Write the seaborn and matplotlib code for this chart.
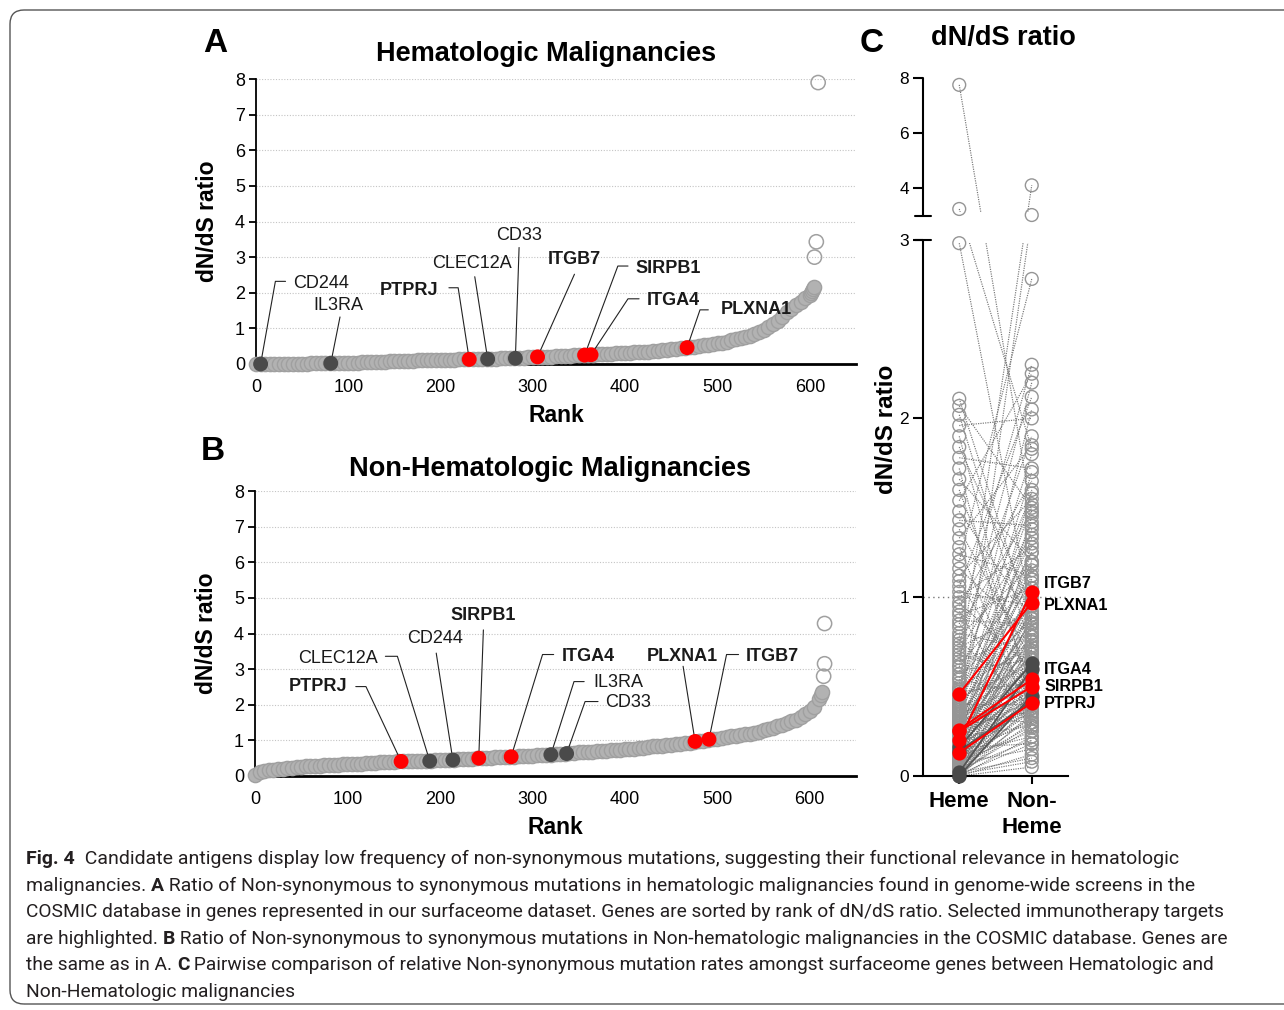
import numpy as np
import pandas as pd
import matplotlib
matplotlib.use("Agg")
import matplotlib.pyplot as plt
import seaborn as sns
from matplotlib import font_manager as fm
from matplotlib.patches import FancyBboxPatch, Rectangle
from matplotlib.transforms import IdentityTransform

W, H = 1284, 1010

# ---------------- data ----------------
# A: hematologic dN/dS, read every 5 ranks (0..600) + open-circle tail
heme_ranks = list(range(0, 601, 5))
heme_vals = [
    0.00, 0.00, 0.00, 0.00, 0.01, 0.01, 0.01, 0.01, 0.01, 0.01,
    0.01, 0.01, 0.02, 0.02, 0.02, 0.02, 0.02, 0.02, 0.03, 0.03,
    0.04, 0.04, 0.04, 0.05, 0.05, 0.06, 0.06, 0.07, 0.07, 0.08,
    0.08, 0.08, 0.09, 0.09, 0.09, 0.10, 0.10, 0.10, 0.11, 0.11,
    0.11, 0.12, 0.12, 0.12, 0.13, 0.13, 0.13, 0.13, 0.14, 0.14,
    0.14, 0.15, 0.15, 0.16, 0.16, 0.17, 0.17, 0.18, 0.18, 0.19,
    0.19, 0.20, 0.20, 0.21, 0.21, 0.22, 0.22, 0.23, 0.23, 0.24,
    0.25, 0.25, 0.26, 0.26, 0.27, 0.28, 0.28, 0.29, 0.30, 0.30,
    0.31, 0.32, 0.33, 0.34, 0.35, 0.35, 0.36, 0.37, 0.38, 0.39,
    0.41, 0.42, 0.44, 0.46, 0.47, 0.49, 0.51, 0.52, 0.54, 0.56,
    0.58, 0.60, 0.63, 0.66, 0.69, 0.72, 0.76, 0.80, 0.85, 0.90,
    0.96, 1.05, 1.12, 1.22, 1.33, 1.45, 1.55, 1.65, 1.75, 1.85,
    1.95]
heme_tail_ranks = [601, 602, 603, 604, 605, 607, 609]
heme_tail_vals = [2.00, 2.05, 2.10, 2.15, 3.00, 3.43, 7.90]

# B: non-hematologic dN/dS, read every 5 ranks (0..610) + tail
nonheme_ranks = list(range(0, 611, 5))
nonheme_vals = [
    0.02, 0.10, 0.13, 0.16, 0.18, 0.20, 0.21, 0.22, 0.23, 0.25,
    0.26, 0.27, 0.28, 0.28, 0.29, 0.30, 0.31, 0.31, 0.32, 0.33,
    0.33, 0.34, 0.35, 0.35, 0.36, 0.36, 0.37, 0.38, 0.38, 0.39,
    0.40, 0.41, 0.41, 0.41, 0.42, 0.42, 0.43, 0.43, 0.43, 0.44,
    0.44, 0.45, 0.45, 0.46, 0.47, 0.47, 0.48, 0.49, 0.50, 0.50,
    0.51, 0.51, 0.52, 0.52, 0.53, 0.53, 0.54, 0.55, 0.55, 0.56,
    0.57, 0.58, 0.59, 0.59, 0.60, 0.61, 0.62, 0.63, 0.64, 0.65,
    0.66, 0.66, 0.67, 0.68, 0.69, 0.70, 0.71, 0.72, 0.73, 0.74,
    0.75, 0.76, 0.77, 0.79, 0.80, 0.81, 0.83, 0.84, 0.85, 0.87,
    0.88, 0.90, 0.91, 0.93, 0.94, 0.96, 0.97, 0.99, 1.01, 1.03,
    1.05, 1.07, 1.09, 1.11, 1.13, 1.15, 1.17, 1.19, 1.21, 1.24,
    1.28, 1.32, 1.36, 1.40, 1.44, 1.48, 1.53, 1.58, 1.65, 1.73,
    1.82, 1.95, 2.15]
nonheme_tail_ranks = [612, 613, 615, 616, 616]
nonheme_tail_vals = [2.28, 2.36, 2.80, 3.15, 4.28]

# highlighted genes
genes = ["CD244", "IL3RA", "PTPRJ", "CLEC12A", "CD33", "ITGB7", "SIRPB1", "ITGA4", "PLXNA1"]
kind = ["other", "other", "target", "other", "other", "target", "target", "target", "target"]
hl_heme_rank = [5, 81, 231, 251, 281, 305, 356, 363, 467]
hl_heme_val = [0.00, 0.02, 0.13, 0.14, 0.16, 0.20, 0.25, 0.26, 0.46]
hl_nonheme_rank = [214, 320, 158, 189, 337, 491, 242, 277, 476]
hl_nonheme_val = [0.45, 0.60, 0.41, 0.42, 0.63, 1.03, 0.50, 0.54, 0.97]

# C: representative gene pairs (heme, non-heme)
c_heme = [
    0.00, 0.00, 0.00, 0.00, 0.01, 0.01, 0.01, 0.01, 0.01, 0.02,
    0.02, 0.02, 0.02, 0.03, 0.03, 0.03, 0.04, 0.04, 0.04, 0.05,
    0.05, 0.05, 0.06, 0.06, 0.06, 0.07, 0.07, 0.07, 0.08, 0.08,
    0.08, 0.09, 0.09, 0.09, 0.10, 0.10,
    0.11, 0.11, 0.12, 0.12, 0.12, 0.13, 0.13, 0.14, 0.14, 0.14,
    0.15, 0.15, 0.16, 0.16, 0.17, 0.17, 0.18, 0.18, 0.19, 0.19,
    0.20, 0.20, 0.21, 0.21, 0.22, 0.22, 0.23, 0.23, 0.24, 0.24,
    0.25,
    0.26, 0.26, 0.27, 0.27, 0.28, 0.28, 0.29, 0.29, 0.30, 0.30,
    0.31, 0.31, 0.32, 0.32, 0.33, 0.33, 0.34, 0.35, 0.35, 0.36,
    0.37, 0.37, 0.38, 0.39, 0.40, 0.40, 0.41, 0.42, 0.43, 0.44,
    0.45, 0.46, 0.47, 0.48, 0.49, 0.50,
    0.52, 0.54, 0.55, 0.57, 0.59, 0.61, 0.62, 0.64, 0.66, 0.68,
    0.70, 0.72, 0.74, 0.76, 0.78, 0.80, 0.83, 0.85, 0.87, 0.90,
    0.92, 0.95, 0.97, 1.00,
    1.03, 1.06, 1.09, 1.12, 1.16, 1.20, 1.24, 1.28, 1.33, 1.38,
    1.43, 1.48, 1.54, 1.60, 1.66, 1.72, 1.78, 1.84, 1.90, 1.96,
    2.02, 2.07, 2.11,
    2.98, 3.24, 7.75]
c_nonheme = [
    0.05, 0.12, 0.22, 0.35, 0.48, 0.08, 0.30, 0.62, 0.18, 0.40,
    0.75, 0.27, 0.10, 0.55, 0.33, 0.90, 0.44, 0.20, 0.68, 0.38,
    1.10, 0.52, 0.28, 0.80, 0.46, 0.15, 0.60, 0.36, 0.95, 0.42,
    0.25, 0.70, 0.50, 1.30, 0.32, 0.58,
    0.85, 0.40, 0.22, 0.65, 1.05, 0.47, 0.30, 0.78, 0.55, 1.45,
    0.38, 0.92, 0.60, 0.18, 0.72, 0.44, 1.18, 0.52, 0.35, 0.88,
    0.63, 1.60, 0.48, 0.75, 0.28, 1.00, 0.57, 0.82, 0.42, 1.25,
    0.68,
    0.95, 0.50, 1.38, 0.73, 0.36, 0.86, 0.60, 1.12, 3.02, 0.45,
    0.78, 1.52, 0.55, 0.97, 0.66, 0.30, 1.20, 0.83, 0.48, 1.70,
    0.70, 1.02, 0.58, 1.33, 0.90, 0.40, 2.05, 0.76, 1.15, 0.62,
    1.42, 0.88, 0.52, 1.08, 1.80, 0.72,
    1.25, 0.45, 0.98, 1.58, 0.65, 4.10, 1.10, 0.80, 2.20, 0.55,
    1.35, 0.92, 1.90, 0.38, 1.18, 0.70, 1.48, 2.30, 0.85, 1.05,
    0.25, 1.65, 0.60, 1.28,
    0.95, 2.12, 0.42, 1.55, 0.78, 2.78, 1.12, 0.30, 1.85, 0.65,
    1.40, 0.88, 2.25, 0.50, 1.20, 0.18, 1.72, 0.95, 0.40, 2.00,
    0.70, 1.50, 0.85,
    0.90, 1.83, 1.47]

caption = [
    [("Fig. 4", True), ("  Candidate antigens display low frequency of non-synonymous mutations, suggesting their functional relevance in hematologic", False)],
    [("malignancies. ", False), ("A", True), (" Ratio of Non-synonymous to synonymous mutations in hematologic malignancies found in genome-wide screens in the", False)],
    [("COSMIC database in genes represented in our surfaceome dataset. Genes are sorted by rank of dN/dS ratio. Selected immunotherapy targets", False)],
    [("are highlighted. ", False), ("B", True), (" Ratio of Non-synonymous to synonymous mutations in Non-hematologic malignancies in the COSMIC database. Genes are", False)],
    [("the same as in A. ", False), ("C", True), (" Pairwise comparison of relative Non-synonymous mutation rates amongst surfaceome genes between Hematologic and", False)],
    [("Non-Hematologic malignancies", False)],
]

# ---------------- label placement (rank, value) ----------------
lab_A = {
    "CD244": ((70, 2.26), [(32, 2.32), (21, 2.32)]),
    "IL3RA": ((89, 1.65), [(91, 1.32)]),
    "PTPRJ": ((166, 2.07), [(209, 2.14), (219, 2.14)]),
    "CLEC12A": ((234, 2.82), [(237, 2.45)]),
    "CD33": ((285, 3.62), [(285, 3.27)]),
    "ITGB7": ((345, 2.92), [(345, 2.52)]),
    "SIRPB1": ((447, 2.68), [(403, 2.75), (392, 2.75)]),
    "ITGA4": ((452, 1.77), [(415, 1.83), (403, 1.83)]),
    "PLXNA1": ((542, 1.52), [(490, 1.52), (481, 1.52)]),
}
lab_B = {
    "PTPRJ": ((68, 2.50), [(109, 2.51), (120, 2.51)]),
    "CLEC12A": ((90, 3.31), [(141, 3.36), (154, 3.36)]),
    "CD244": ((195, 3.85), [(196, 3.45)]),
    "SIRPB1": ((247, 4.50), [(247, 4.10)]),
    "ITGA4": ((360, 3.36), [(323, 3.41), (311, 3.41)]),
    "IL3RA": ((393, 2.63), [(356, 2.65), (345, 2.65)]),
    "CD33": ((404, 2.06), [(371, 2.09), (357, 2.09)]),
    "PLXNA1": ((462, 3.36), [(463, 3.08)]),
    "ITGB7": ((559, 3.36), [(523, 3.41), (510, 3.41)]),
}
lab_C = {"ITGB7": 1.074, "PLXNA1": 0.951, "ITGA4": 0.593, "SIRPB1": 0.498, "PTPRJ": 0.403}

RED, DARK, GREY = "#ff0000", "#4a4a4a", "#a0a0a0"

# ---------------- style ----------------
sns.set_theme(style="white", rc={
    "axes.edgecolor": "black", "text.color": "black",
    "xtick.color": "black", "ytick.color": "black", "axes.labelcolor": "black",
})
plt.rcParams["font.family"] = ["Liberation Sans", "DejaVu Sans"]


def first_font(names):
    avail = {f.name for f in fm.fontManager.ttflist}
    for n in names:
        if n in avail:
            return n
    return "DejaVu Sans"


cap_font = first_font(["Roboto", "Noto Sans", "Open Sans", "DejaVu Sans"])

fig = plt.figure(figsize=(W / 100, H / 100), dpi=100)


def fx(px):
    return px / W


def fy(py):
    return 1 - py / H


# outer rounded frame
frame = FancyBboxPatch((10, H - 1004), 1300, 994,
                       boxstyle="round,pad=0,rounding_size=14",
                       transform=IdentityTransform(), fill=False,
                       edgecolor="#555555", lw=1.0)
fig.patches.append(frame)


def rank_panel(ax, ranks, vals, t_ranks, t_vals, hl_rank, hl_val, labels, title, title_xy):
    # dense band: overlapping grey circles
    band = pd.DataFrame({"rank": ranks + t_ranks[:-3], "ratio": vals + t_vals[:-3]})
    sns.scatterplot(data=band, x="rank", y="ratio", ax=ax, s=105, color="#b2b2b2",
                    edgecolor=GREY, linewidth=1.0, legend=False, zorder=3, clip_on=False)
    # isolated high outliers: open circles
    tail = pd.DataFrame({"rank": t_ranks[-3:], "ratio": t_vals[-3:]})
    sns.scatterplot(data=tail, x="rank", y="ratio", ax=ax, s=105, color=GREY,
                    edgecolor=GREY, linewidth=1.1, legend=False, zorder=3, clip_on=False)
    ax.collections[-1].set_facecolor("none")

    hl = pd.DataFrame({"gene": genes, "kind": kind, "rank": hl_rank, "ratio": hl_val})
    for g, r, v, k in zip(genes, hl_rank, hl_val, kind):
        (tx, ty), path = labels[g]
        xs = [p[0] for p in path] + [r]
        ys = [p[1] for p in path] + [v]
        ax.plot(xs, ys, color="#222222", lw=0.8, zorder=4, clip_on=False)
        ax.text(tx, ty, g, ha="center", va="center", fontsize=13,
                fontweight="bold" if k == "target" else "normal", color="#1a1a1a", zorder=6)
    sns.scatterplot(data=hl, x="rank", y="ratio", hue="kind", palette={"target": RED, "other": DARK},
                    ax=ax, s=115, linewidth=0, legend=False, zorder=5, clip_on=False)

    ax.set_xlim(0, 650)
    ax.set_ylim(0, 8)
    ax.set_xticks(range(0, 601, 100))
    ax.set_yticks(range(0, 9))
    ax.yaxis.grid(True, ls=(0, (1, 1.5)), color="#c4c4c4", lw=0.8)
    ax.xaxis.grid(False)
    ax.set_axisbelow(True)
    for s in ["top", "right"]:
        ax.spines[s].set_visible(False)
    ax.spines["left"].set_linewidth(1.3)
    ax.spines["bottom"].set_linewidth(2.0)
    ax.spines["bottom"].set_zorder(2.5)
    ax.tick_params(axis="y", left=True, length=5, width=1.3, labelsize=13, pad=3)
    ax.tick_params(axis="x", bottom=False, length=0, labelsize=13, pad=11)
    ax.set_xlabel("Rank", fontsize=16.5, fontweight="bold")
    ax.xaxis.set_label_coords(0.5, -0.182)
    ax.xaxis.label.set_va("center")
    ax.set_ylabel("dN/dS ratio", fontsize=16.5, fontweight="bold")
    ax.yaxis.set_label_coords(-0.08, 0.5)
    ax.yaxis.label.set_va("center")
    ax.text(title_xy[0], title_xy[1], title, transform=ax.transAxes, ha="center", va="center",
            fontsize=19.5, fontweight="bold")


axA = fig.add_axes([fx(256), fy(364), (856 - 256) / W, (364 - 79) / H])
axB = fig.add_axes([fx(255), fy(776), (856 - 255) / W, (776 - 491) / H])
rank_panel(axA, heme_ranks, heme_vals, heme_tail_ranks, heme_tail_vals,
           hl_heme_rank, hl_heme_val, lab_A, "Hematologic Malignancies", (0.483, 1.088))
rank_panel(axB, nonheme_ranks, nonheme_vals, nonheme_tail_ranks, nonheme_tail_vals,
           hl_nonheme_rank, hl_nonheme_val, lab_B, "Non-Hematologic Malignancies", (0.491, 1.077))

# ---------------- panel C ----------------
axC = fig.add_axes([fx(923), fy(776), (1068 - 923) / W, (776 - 78) / H])
GAP = 24 / 178.7
RUP = 27.5 / 178.7


def fwd(y):
    y = np.asarray(y, float)
    return np.where(y <= 3, y, 3 + GAP + (y - 3) * RUP)


def inv(t):
    t = np.asarray(t, float)
    return np.where(t <= 3, t, np.where(t < 3 + GAP, 3.0, 3 + (t - 3 - GAP) / RUP))


n = len(c_heme)
pairs = pd.DataFrame({
    "gene": list(range(n)) * 2,
    "pos": [0] * n + [1] * n,
    "ratio": c_heme + c_nonheme,
})
sns.lineplot(data=pairs, x="pos", y="ratio", units="gene", estimator=None, sort=False,
             color="#767676", lw=0.85, linestyle=(0, (1, 1.0)), ax=axC, legend=False, zorder=1)
sns.scatterplot(data=pairs, x="pos", y="ratio", ax=axC, s=85, color="#9a9a9a",
                edgecolor="#959595", linewidth=1.0, legend=False, zorder=2, clip_on=False)
axC.collections[-1].set_facecolor("none")

hlc = pd.DataFrame({
    "gene": genes * 2, "kind": kind * 2,
    "pos": [0] * len(genes) + [1] * len(genes),
    "ratio": hl_heme_val + hl_nonheme_val,
})
for k, col, lw, z in [("other", "#555555", 1.3, 3), ("target", RED, 1.5, 5)]:
    sub = hlc[hlc["kind"] == k]
    sns.lineplot(data=sub, x="pos", y="ratio", units="gene", estimator=None, sort=False,
                 color=col, lw=lw, ax=axC, legend=False, zorder=z)
    sns.scatterplot(data=sub, x="pos", y="ratio", ax=axC, s=105, color=col if k == "target" else DARK,
                    linewidth=0, legend=False, zorder=z + 1, clip_on=False)

for g, yv in lab_C.items():
    axC.text(1.17, yv, g, ha="left", va="center", fontsize=11.7, fontweight="bold", zorder=8)

axC.axhline(1, color="#777777", ls=(0, (1, 2.5)), lw=1.0, zorder=1)
axC.set_yscale("function", functions=(fwd, inv))
axC.set_ylim(0, 8)
axC.set_xlim(-0.5, 1.5)
TOTAL = float(fwd(8))
gap_lo = 3 / TOTAL - 3 / 698
gap_hi = (3 + GAP) / TOTAL + 4 / 698
axC.add_patch(Rectangle((0.004, gap_lo), 1.0, gap_hi - gap_lo, transform=axC.transAxes,
                        facecolor="white", edgecolor="none", zorder=1.5))

for s in ["top", "right", "left"]:
    axC.spines[s].set_visible(False)
axC.spines["bottom"].set_linewidth(1.5)
yx = axC.get_yaxis_transform()
axC.plot([0, 0], [0, 3], transform=yx, color="black", lw=1.5, clip_on=False, zorder=9)
axC.plot([0, 0], [3.0001, 8], transform=yx, color="black", lw=1.5, clip_on=False, zorder=9)
axC.plot([-0.055, 0.055], [3, 3], transform=yx, color="black", lw=1.5, clip_on=False, zorder=9)
axC.plot([-0.055, 0.055], [3.0001, 3.0001], transform=yx, color="black", lw=1.5, clip_on=False, zorder=9)
axC.set_yticks([0, 1, 2, 3, 4, 6, 8])
axC.set_yticklabels(["0", "1", "2", "3", "4", "6", "8"])
axC.set_xticks([0, 1])
axC.set_xticklabels(["Heme", "Non-\nHeme"], fontsize=16, fontweight="bold", linespacing=1.3)
axC.tick_params(axis="y", left=True, length=7, width=1.5, labelsize=12.5, pad=3)
axC.tick_params(axis="x", bottom=True, length=6, width=1.5, pad=5)
axC.set_xlabel("")
axC.set_ylabel("dN/dS ratio", fontsize=17.5, fontweight="bold")
axC.yaxis.set_label_coords(-0.255, 0.496)
axC.yaxis.label.set_va("center")

# ---------------- panel letters / C title ----------------
fig.text(fx(215), fy(43), "A", fontsize=24, fontweight="bold", ha="center", va="center")
fig.text(fx(213), fy(452), "B", fontsize=24, fontweight="bold", ha="center", va="center")
fig.text(fx(872), fy(43), "C", fontsize=24, fontweight="bold", ha="center", va="center")
fig.text(fx(1003), fy(38), "dN/dS ratio", fontsize=19.5, fontweight="bold", ha="center", va="center")

# ---------------- caption ----------------
renderer = fig.canvas.get_renderer()
cap_family = [cap_font, "DejaVu Sans"]


def text_width(txt, size, bold):
    kw = dict(fontsize=size, fontweight="bold" if bold else "normal", family=cap_family)
    a = fig.text(0, 0, "|" + txt + "|", **kw)
    b = fig.text(0, 0, "||", **kw)
    w = a.get_window_extent(renderer).width - b.get_window_extent(renderer).width
    a.remove()
    b.remove()
    return w


cap_left = 26
cap_right = [1168, 1187, 1219, 1224, 1213]
cap_base = [864, 891, 917, 944, 970, 997]
sizes = []
for line, right in zip(caption[:5], cap_right):
    w = sum(text_width(t, 12, b) for t, b in line)
    sizes.append(12 * (right - cap_left) / w)
sizes.append(float(np.mean(sizes)))

for line, size, base in zip(caption, sizes, cap_base):
    x = cap_left
    for t, b in line:
        fig.text(fx(x), fy(base), t, fontsize=size, fontweight="bold" if b else "normal",
                 family=cap_family, color="#231f20", ha="left", va="baseline")
        x += text_width(t, size, b)

fig.savefig("out.png", dpi=100)
